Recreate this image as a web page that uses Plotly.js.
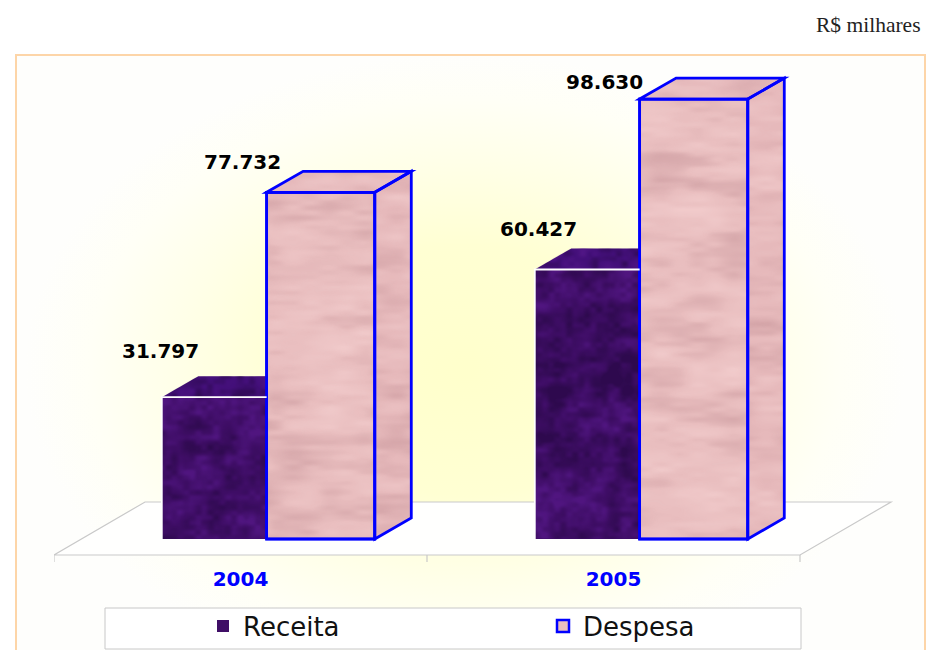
<!DOCTYPE html>
<html><head><meta charset="utf-8">
<script src="https://cdn.plot.ly/plotly-3.0.1.min.js"></script>
<style>html,body{margin:0;padding:0;background:#fff;overflow:hidden}#c{width:926px;height:650px}</style>
</head><body><div id="c"></div>
<script>
const categories = ['2004', '2005'];
const receita = [31797, 60427];
const despesa = [77732, 98630];
const seriesNames = ['Receita', 'Despesa'];

// layout constants (pixels)
const W = 926, H = 650, L = 54, R = 26, T = 60;
const plotBottomPx = 565, floorFrontPx = 555, baselinePx = 539;
const plotW = W - L - R, plotH = plotBottomPx - T, paperH = H - T;
const unitPx = 373, valPerPx = 224.2;
const yBottom = (baselinePx - plotBottomPx) * valPerPx, yTop = yBottom + plotH * valPerPx;
const xMax = -0.5 + plotW / unitPx;
const xpx = u => u * unitPx, ypx = v => v / valPerPx;
const dX = 36.5 / unitPx, dY = 21 * valPerPx;
const floorY = (baselinePx - floorFrontPx) * valPerPx;
const floorDX = 91 / unitPx, floorDY = 53 * valPerPx;
const recOff = -0.211, recW = 0.281, desOff = 0.07, desW = 0.29;
const paperX = p => (p - L) / plotW, paperY = p => (H - p) / paperH;
const xs = [0, 1];

function fmt(v) { return String(v).replace(/\B(?=(\d{3})+$)/g, '.'); }
function fillTrace(poly, color) {
  return { type: 'scatter', mode: 'lines', x: poly.map(p => p[0]).concat(poly[0][0]), y: poly.map(p => p[1]).concat(poly[0][1]),
    fill: 'toself', fillcolor: color, line: { width: 0, color: color }, showlegend: false, hoverinfo: 'skip' };
}
// deterministic smooth value noise for the marble texture of the faces
function h2(i, j) { const s = Math.sin(i * 127.1 + j * 311.7) * 43758.5453; return s - Math.floor(s); }
function vn(x, y) {
  const i = Math.floor(x), j = Math.floor(y), f = x - i, g = y - j;
  const a = f * f * (3 - 2 * f), b = g * g * (3 - 2 * g);
  return (h2(i, j) * (1 - a) + h2(i + 1, j) * a) * (1 - b) + (h2(i, j + 1) * (1 - a) + h2(i + 1, j + 1) * a) * b;
}
function noise(u, v, k) {
  if (k === 'pink') {
    return (vn(u / 40, v / 13) - 0.5) * 1.0 + (vn(u / 18, v / 5 + 9) - 0.5) * 0.5 + (vn(u / 70, v / 50 + 3) - 0.5) * 0.6;
  }
  return (vn(u / 14, v / 12) - 0.5) * 1.0 + (vn(u / 6, v / 5 + 5) - 0.5) * 0.6 + (vn(u / 40, v / 40 + 7) - 0.5) * 0.9;
}
function textureImage(poly, kind, ox, oy) {
  const px = poly.map(p => [xpx(p[0]), -ypx(p[1])]);
  const x0 = Math.min(...px.map(p => p[0])), x1 = Math.max(...px.map(p => p[0]));
  const y0 = Math.min(...px.map(p => p[1])), y1 = Math.max(...px.map(p => p[1]));
  const w = Math.ceil(x1 - x0), h = Math.ceil(y1 - y0);
  const t = document.createElement('canvas'); t.width = w; t.height = h;
  const g = t.getContext('2d'), id = g.createImageData(w, h);
  for (let j = 0; j < h; j++) for (let i = 0; i < w; i++) {
    const n = noise(i + ox, j + oy, kind), o = (j * w + i) * 4;
    let c, a;
    if (kind === 'pink') {
      c = n > 0 ? [248, 214, 214] : [195, 145, 150]; a = Math.abs(n) * 170;
    } else {
      c = n > 0 ? [88, 26, 140] : [38, 8, 66]; a = Math.abs(n) * 260;
    }
    id.data[o] = c[0]; id.data[o + 1] = c[1]; id.data[o + 2] = c[2]; id.data[o + 3] = Math.min(170, a);
  }
  g.putImageData(id, 0, 0);
  const c = document.createElement('canvas'); c.width = w; c.height = h;
  const cg = c.getContext('2d');
  cg.beginPath();
  px.forEach((p, i) => { const a = p[0] - x0, b = p[1] - y0; i ? cg.lineTo(a, b) : cg.moveTo(a, b); });
  cg.closePath(); cg.clip(); cg.drawImage(t, 0, 0);
  const xs_ = poly.map(p => p[0]), ys_ = poly.map(p => p[1]);
  return { source: c.toDataURL(), xref: 'x', yref: 'y', layer: 'above', sizing: 'stretch',
    x: Math.min(...xs_), y: Math.max(...ys_), sizex: Math.max(...xs_) - Math.min(...xs_), sizey: Math.max(...ys_) - Math.min(...ys_),
    xanchor: 'left', yanchor: 'top' };
}
function backgroundImage() {
  const x0 = 16, y0 = 55, w = 910, h = 595;
  const c = document.createElement('canvas'); c.width = w; c.height = h;
  const g = c.getContext('2d');
  g.fillStyle = '#FEFEFC'; g.fillRect(0, 0, w, h);
  g.translate(465 - x0, 370 - y0); g.scale(1.0, 0.72);
  const r = g.createRadialGradient(0, 0, 10, 0, 0, 440);
  r.addColorStop(0, '#FFFFCC'); r.addColorStop(0.38, '#FFFFD3'); r.addColorStop(0.65, '#FFFFE8'); r.addColorStop(0.85, '#FFFFF6'); r.addColorStop(1, '#FEFEFC');
  g.fillStyle = r; g.fillRect(-700, -900, 1400, 1800);
  return { source: c.toDataURL(), xref: 'paper', yref: 'paper', layer: 'below', sizing: 'stretch',
    x: paperX(x0), y: paperY(y0), sizex: w / plotW, sizey: h / paperH, xanchor: 'left', yanchor: 'top' };
}
function pathOf(poly, open) { return 'M' + poly.map(p => p[0] + ',' + p[1]).join('L') + (open ? '' : 'Z'); }

const traces = [
  { type: 'bar', name: seriesNames[0], x: xs, y: receita, offset: recOff, width: recW, marker: { color: '#3F0E66', line: { width: 0 } }, hoverinfo: 'skip' },
  { type: 'bar', name: seriesNames[1], x: xs, y: despesa, offset: desOff, width: desW, marker: { color: '#E9BEBF', line: { color: '#0000FF', width: 2.5 } }, hoverinfo: 'skip' }
];
const images = [backgroundImage()];
const shapes = [];

xs.forEach((c, i) => {
  const a = c + recOff, b = c + desOff, e = c + desOff + desW;
  const rv = receita[i], dv = despesa[i];
  const recTop = [[a, rv], [a + dX, rv + dY], [b, rv + dY], [b, rv]];
  const desTop = [[b, dv], [b + dX, dv + dY], [e + dX, dv + dY], [e, dv]];
  const desSide = [[e, 0], [e + dX, dY], [e + dX, dv + dY], [e, dv]];
  const recFront = [[a, 0], [a, rv], [b, rv], [b, 0]];
  const desFront = [[b, 0], [b, dv], [e, dv], [e, 0]];
  traces.push(fillTrace(recTop, '#44107A'));
  traces.push(fillTrace(desTop, '#E6BABC'));
  traces.push(fillTrace(desSide, '#E6B9BB'));
  images.push(textureImage(recFront, 'purple', 30 + i * 200, 10));
  images.push(textureImage(recTop, 'purple', 60 + i * 90, 200));
  images.push(textureImage(desFront, 'pink', 10 + i * 130, 40 - i * 60));
  images.push(textureImage(desTop, 'pink', 300 + i * 70, 5));
  images.push(textureImage(desSide, 'pink', 500 + i * 40, 90));
  [desFront, desTop, desSide].forEach(p => shapes.push({ type: 'path', xref: 'x', yref: 'y', layer: 'above', path: pathOf(p),
    line: { color: '#0000FF', width: 2.8 }, fillcolor: 'rgba(0,0,0,0)' }));
  shapes.push({ type: 'path', xref: 'x', yref: 'y', layer: 'above', path: pathOf([[a, 0], [a, rv], [b, rv]], true),
    line: { color: '#FFFFFF', width: 1.8 }, fillcolor: 'rgba(0,0,0,0)' });
});

// floor and axis ticks
const fL = -0.5, fR = 1.5;
shapes.push({ type: 'path', xref: 'x', yref: 'y', layer: 'below',
  path: pathOf([[fL, floorY], [fL + floorDX, floorY + floorDY], [fR + floorDX, floorY + floorDY], [fR, floorY]]),
  fillcolor: '#FFFFFE', line: { color: '#C9C9C9', width: 1.2 } });
[-0.5, 0.5, 1.5].forEach(v => shapes.push({ type: 'line', xref: 'x', yref: 'y', layer: 'below', x0: v, x1: v, y0: floorY, y1: floorY - 7 * valPerPx,
  line: { color: '#C9C9C9', width: 1.2 } }));
// frame & legend box
shapes.push({ type: 'rect', xref: 'paper', yref: 'paper', layer: 'below', x0: paperX(16), x1: paperX(925), y0: paperY(670), y1: paperY(55),
  line: { color: '#FDD5A8', width: 2 }, fillcolor: 'rgba(0,0,0,0)' });
shapes.push({ type: 'rect', xref: 'paper', yref: 'paper', layer: 'below', x0: paperX(105), x1: paperX(801), y0: paperY(649), y1: paperY(608),
  line: { color: '#C8C8C8', width: 1 }, fillcolor: '#FFFFFF' });

const labelFont = { family: 'DejaVu Sans', size: 20, color: '#000000' };
const annXShift = [[-106, -101], [-24, -35]];
const annYShift = [[46, 40], [30, 17]];
const annotations = [];
[receita, despesa].forEach((s, si) => s.forEach((v, i) => {
  annotations.push({ x: xs[i] + (si ? desOff : recOff + recW / 2 + 0.141), y: v, xref: 'x', yref: 'y', text: '<b>' + fmt(v) + '</b>', showarrow: false,
    font: labelFont, xshift: annXShift[si][i], yshift: annYShift[si][i] });
}));
annotations.push({ xref: 'paper', yref: 'paper', x: paperX(923), y: paperY(25), xanchor: 'right', yanchor: 'middle', showarrow: false,
  text: 'R$ milhares', font: { family: 'Liberation Serif', size: 21.5, color: '#222222' } });

const layout = {
  width: W, height: H, margin: { l: L, r: R, t: T, b: 0, pad: 0 },
  paper_bgcolor: '#FFFFFF', plot_bgcolor: 'rgba(0,0,0,0)', barmode: 'overlay',
  xaxis: { range: [-0.5, xMax], tickmode: 'array', tickvals: xs, ticktext: categories.map(c => '<b>' + c + '</b>'), ticks: '',
    tickfont: { family: 'DejaVu Sans', size: 20, color: '#0000FF' }, ticklabelstandoff: 0,
    showgrid: false, zeroline: false, showline: false },
  yaxis: { range: [yBottom, yTop], domain: [(H - plotBottomPx) / paperH, 1], visible: false, showgrid: false, zeroline: false },
  showlegend: true,
  legend: { orientation: 'h', x: paperX(203), xanchor: 'left', y: paperY(626), yanchor: 'middle', bgcolor: 'rgba(0,0,0,0)', borderwidth: 0,
    entrywidth: 295, entrywidthmode: 'pixels', traceorder: 'normal', font: { family: 'DejaVu Sans', size: 26, color: '#111111' } },
  shapes, images, annotations
};
Plotly.newPlot('c', traces, layout, { displayModeBar: false, staticPlot: true });
</script></body></html>
